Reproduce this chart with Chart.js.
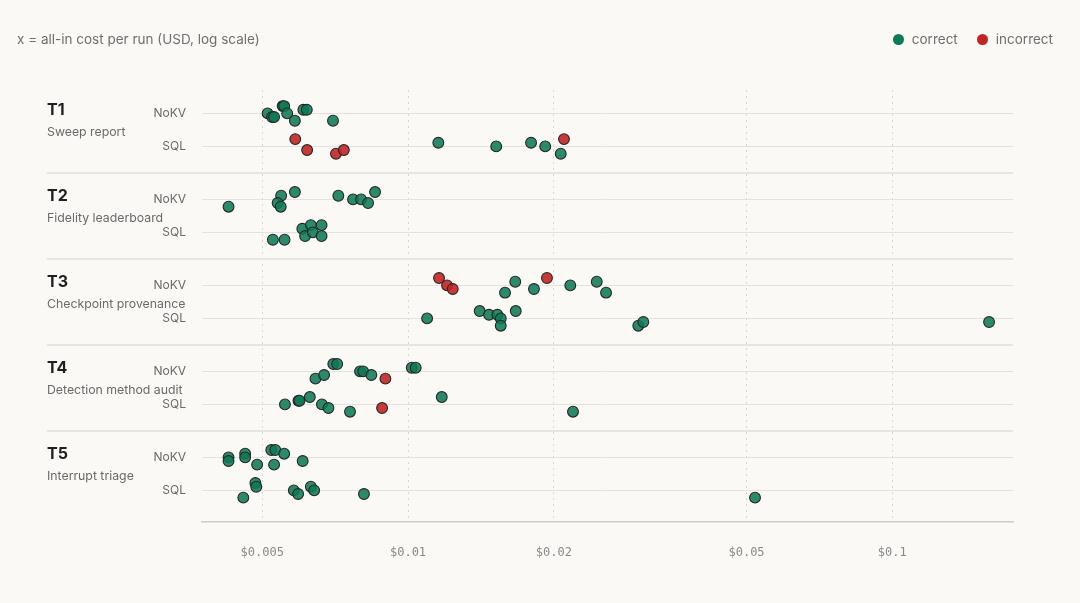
<!DOCTYPE html>
<html lang="en">
<head>
  <meta charset="UTF-8">
  <title>All-in cost per run by task</title>
  <script src="https://cdn.jsdelivr.net/npm/chart.js"></script>
  <style>
    body {
      margin: 0;
      background: #faf9f5;
      font-family: Inter, "Noto Sans", sans-serif;
    }

    #wrap {
      position: relative;
      width: 1080px;
      height: 603px;
    }

    .axis-note {
      position: absolute;
      left: 17px;
      top: 31px;
      font-size: 13.5px;
      color: #6f6f6f;
    }

    .legend {
      position: absolute;
      right: 27px;
      top: 31px;
      display: flex;
      gap: 19px;
      font-size: 13.5px;
      color: #6f6f6f;
    }

    .legend span {
      display: flex;
      align-items: center;
      gap: 8px;
    }

    .legend i {
      display: inline-block;
      width: 11px;
      height: 11px;
      border-radius: 50%;
    }
  </style>
</head>

<body>
  <div id="wrap">
    <div class="axis-note">x = all-in cost per run (USD, log scale)</div>
    <div class="legend">
      <span><i style="background:#0b7a57"></i>correct</span>
      <span><i style="background:#c22424"></i>incorrect</span>
    </div>
    <canvas id="costChart"></canvas>
  </div>

  <script>
    const taskIds = ["T1", "T2", "T3", "T4", "T5"];
    const taskNames = ["Sweep report", "Fidelity leaderboard", "Checkpoint provenance", "Detection method audit", "Interrupt triage"];
    const backendNames = ["NoKV", "SQL"];
    const xTicks = [0.005, 0.01, 0.02, 0.05, 0.1];

    // cost per run (USD), vertical jitter step (-2..2), outcome (1 = correct, 0 = incorrect)
    const t1NoKVCost = [0.00513, 0.00524, 0.00529, 0.00551, 0.00555, 0.00563, 0.00584, 0.00608, 0.00618, 0.00700];
    const t1NoKVJitter = [0, 1, 1, -2, -2, 0, 2, -1, -1, 2];
    const t1NoKVOk = [1, 1, 1, 1, 1, 1, 1, 1, 1, 1];

    const t1SQLCost = [0.00585, 0.00619, 0.00710, 0.00737, 0.02099, 0.01155, 0.01521, 0.01795, 0.01920, 0.02067];
    const t1SQLJitter = [-2, 1, 2, 1, -2, -1, 0, -1, 0, 2];
    const t1SQLOk = [0, 0, 0, 0, 0, 1, 1, 1, 1, 1];

    const t2NoKVCost = [0.00426, 0.00547, 0.00538, 0.00546, 0.00584, 0.00718, 0.00770, 0.00800, 0.00827, 0.00855];
    const t2NoKVJitter = [2, -1, 1, 2, -2, -1, 0, 0, 1, -2];
    const t2NoKVOk = [1, 1, 1, 1, 1, 1, 1, 1, 1, 1];

    const t2SQLCost = [0.00526, 0.00556, 0.00605, 0.00613, 0.00630, 0.00636, 0.00663, 0.00663];
    const t2SQLJitter = [2, 2, -1, 1, -2, 0, -2, 1];
    const t2SQLOk = [1, 1, 1, 1, 1, 1, 1, 1];

    const t3NoKVCost = [0.01159, 0.01204, 0.01237, 0.01586, 0.01665, 0.01820, 0.01936, 0.02163, 0.02453, 0.02564];
    const t3NoKVJitter = [-2, 0, 1, 2, -1, 1, -2, 0, -1, 2];
    const t3NoKVOk = [0, 0, 0, 1, 1, 1, 0, 1, 1, 1];

    const t3SQLCost = [0.01095, 0.01406, 0.01470, 0.01529, 0.01554, 0.01554, 0.01669, 0.02989, 0.03061, 0.1584];
    const t3SQLJitter = [0, -2, -1, -1, 0, 2, -2, 2, 1, 1];
    const t3SQLOk = [1, 1, 1, 1, 1, 1, 1, 1, 1, 1];

    const t4NoKVCost = [0.00701, 0.00714, 0.00644, 0.00671, 0.00796, 0.00808, 0.00840, 0.00898, 0.01018, 0.01037];
    const t4NoKVJitter = [-2, -2, 2, 1, 0, 0, 1, 2, -1, -1];
    const t4NoKVOk = [1, 1, 1, 1, 1, 1, 1, 0, 1, 1];

    const t4SQLCost = [0.00557, 0.00594, 0.00597, 0.00627, 0.00664, 0.00685, 0.00759, 0.00884, 0.01174, 0.02191];
    const t4SQLJitter = [0, -1, -1, -2, 0, 1, 2, 1, -2, 2];
    const t4SQLOk = [1, 1, 1, 1, 1, 1, 1, 0, 1, 1];

    const t5NoKVCost = [0.00426, 0.00426, 0.00461, 0.00461, 0.00488, 0.00522, 0.00532, 0.00529, 0.00555, 0.00606];
    const t5NoKVJitter = [0, 1, -1, 0, 2, -2, -2, 2, -1, 1];
    const t5NoKVOk = [1, 1, 1, 1, 1, 1, 1, 1, 1, 1];

    const t5SQLCost = [0.00457, 0.00484, 0.00486, 0.00581, 0.00593, 0.00630, 0.00640, 0.00811, 0.05206];
    const t5SQLJitter = [2, -2, -1, 0, 1, -1, 0, 1, 2];
    const t5SQLOk = [1, 1, 1, 1, 1, 1, 1, 1, 1];

    const rows = [
      [t1NoKVCost, t1NoKVJitter, t1NoKVOk], [t1SQLCost, t1SQLJitter, t1SQLOk],
      [t2NoKVCost, t2NoKVJitter, t2NoKVOk], [t2SQLCost, t2SQLJitter, t2SQLOk],
      [t3NoKVCost, t3NoKVJitter, t3NoKVOk], [t3SQLCost, t3SQLJitter, t3SQLOk],
      [t4NoKVCost, t4NoKVJitter, t4NoKVOk], [t4SQLCost, t4SQLJitter, t4SQLOk],
      [t5NoKVCost, t5NoKVJitter, t5NoKVOk], [t5SQLCost, t5SQLJitter, t5SQLOk],
    ];

    // each task is one unit tall on the y scale, NoKV / SQL rows sit inside it
    const rowOffset = [0.31, 0.694];
    const jitterStep = 0.0425;
    const rowCenters = rows.map((_, r) => Math.floor(r / 2) + rowOffset[r % 2]);

    const correctPoints = [];
    const incorrectPoints = [];
    rows.forEach(([cost, jitter, ok], r) => {
      cost.forEach((c, i) => {
        const point = { x: c, y: rowCenters[r] + jitter[i] * jitterStep };
        (ok[i] ? correctPoints : incorrectPoints).push(point);
      });
    });

    // task separators and the task titles on the left
    const taskLabels = {
      id: "taskLabels",
      beforeDatasetsDraw(chart) {
        const { ctx, chartArea, scales } = chart;
        const y = scales.y;
        ctx.save();
        ctx.strokeStyle = "#e8e5df";
        ctx.lineWidth = 2;
        for (let g = 1; g < taskIds.length; g++) {
          const py = Math.round(y.getPixelForValue(g));
          ctx.beginPath();
          ctx.moveTo(47, py);
          ctx.lineTo(chartArea.right, py);
          ctx.stroke();
        }
        ctx.textAlign = "left";
        ctx.textBaseline = "middle";
        taskIds.forEach((id, g) => {
          ctx.fillStyle = "#1f1f1f";
          ctx.font = "bold 16px Inter, sans-serif";
          ctx.fillText(id, 47, y.getPixelForValue(g + 0.27));
          ctx.fillStyle = "#6a6a6a";
          ctx.font = "12.3px Inter, sans-serif";
          ctx.fillText(taskNames[g], 47, y.getPixelForValue(g + 0.53));
        });
        ctx.restore();
      },
    };

    const ctx = document.getElementById("costChart").getContext("2d");
    new Chart(ctx, {
      type: "scatter",
      data: {
        datasets: [{
          label: "correct",
          data: correctPoints,
          backgroundColor: "rgba(14, 122, 86, 0.88)",
          borderColor: "#262626",
          borderWidth: 1.1,
          pointRadius: 5.4,
        }, {
          label: "incorrect",
          data: incorrectPoints,
          backgroundColor: "rgba(194, 36, 36, 0.9)",
          borderColor: "#262626",
          borderWidth: 1.1,
          pointRadius: 5.4,
        }],
      },
      options: {
        responsive: true,
        maintainAspectRatio: false,
        animation: false,
        events: [],
        layout: { padding: { top: 90, right: 67, bottom: 0, left: 0 } },
        plugins: {
          legend: { display: false },
          tooltip: { enabled: false },
        },
        scales: {
          x: {
            type: "logarithmic",
            min: 0.003755,
            max: 0.1775,
            afterBuildTicks: (scale) => {
              scale.ticks = xTicks.map((v) => ({ value: v }));
            },
            afterFit: (scale) => { scale.height = 81; },
            ticks: {
              callback: (v) => "$" + v,
              autoSkip: false,
              maxRotation: 0,
              padding: 24,
              color: "#8a8a8a",
              font: { family: "'DejaVu Sans Mono', monospace", size: 12 },
            },
            grid: {
              color: "#d9d6d0",
              lineWidth: 1,
              drawTicks: false,
            },
            border: { display: true, color: "#cfccc5", width: 1.5, dash: [2, 4] },
          },
          y: {
            type: "linear",
            reverse: true,
            min: 0.038,
            max: 5.062,
            afterBuildTicks: (scale) => {
              scale.ticks = rowCenters.map((v) => ({ value: v }));
            },
            afterFit: (scale) => { scale.width = 202; },
            ticks: {
              callback: (v, i) => backendNames[i % 2],
              autoSkip: false,
              padding: 16,
              color: "#6a6a6a",
              font: { family: "Inter, sans-serif", size: 12 },
            },
            grid: { color: "#e5e2dc", lineWidth: 1, drawTicks: false },
            border: { display: false },
          },
        },
      },
      plugins: [taskLabels],
    });
  </script>
</body>
</html>
